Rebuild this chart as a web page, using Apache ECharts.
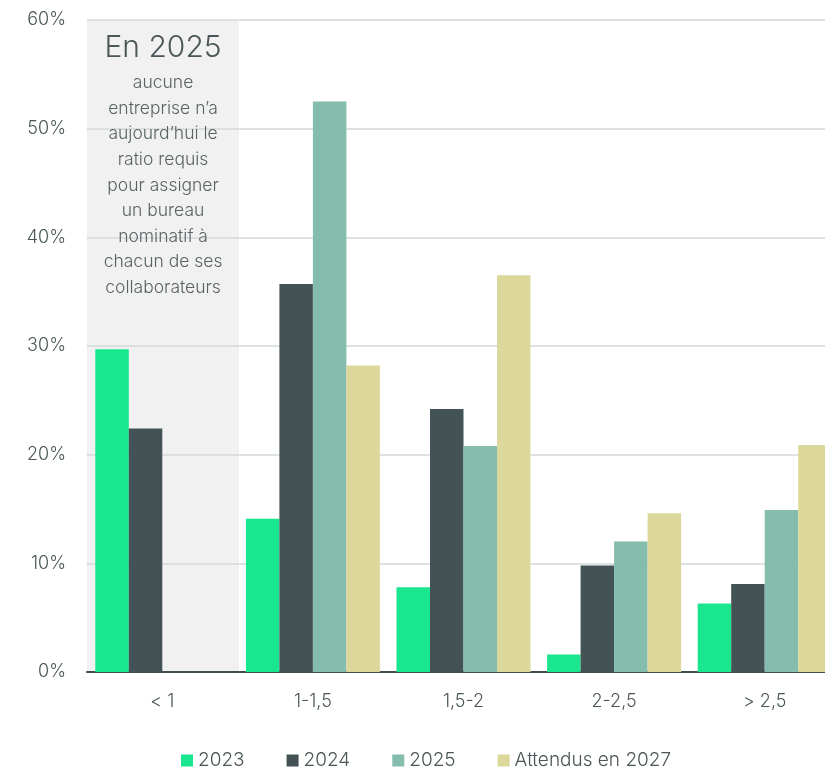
<!DOCTYPE html>
<html>
<head>
<meta charset="utf-8">
<script src="https://cdn.jsdelivr.net/npm/echarts@6/dist/echarts.min.js"></script>
<style>
  html, body { margin: 0; padding: 0; background: #ffffff; }
  #chart { width: 825px; height: 771px; }
</style>
</head>
<body>
<div id="chart"></div>
<script>
// Ratio categories and share of companies (%) per year
const categories = ['< 1', '1-1,5', '1,5-2', '2-2,5', '> 2,5'];
const seriesNames = ['2023', '2024', '2025', 'Attendus en 2027'];
const values2023 = [29.7, 14.1, 7.8, 1.6, 6.3];
const values2024 = [22.4, 35.7, 24.2, 9.8, 8.1];
const values2025 = [null, 52.5, 20.8, 12.0, 14.9];
const values2027 = [null, 28.2, 36.5, 14.6, 20.9];
const yTicks = [0, 10, 20, 30, 40, 50, 60];

const noteTitle = 'En 2025';
const noteLines = ['aucune', 'entreprise n’a', 'aujourd’hui le', 'ratio requis',
  'pour assigner', 'un bureau', 'nominatif à', 'chacun de ses', 'collaborateurs'];

const colors = ['#19e68f', '#435254', '#84bcad', '#dcd89b'];
const textColor = '#4a5657';
const font = 'Inter, "Noto Sans", sans-serif';

const chart = echarts.init(document.getElementById('chart'));
const allValues = [values2023, values2024, values2025, values2027];

chart.setOption({
  animation: false,
  textStyle: { fontFamily: font },
  // the plot runs slightly past the right edge of the canvas
  grid: { left: 87, right: -15, top: 20, bottom: 99, containLabel: false, outerBoundsMode: 'none' },
  legend: {
    top: 751,
    left: 181,
    padding: 0,
    itemWidth: 12,
    itemHeight: 12,
    itemGap: 42,
    icon: 'rect',
    textStyle: { fontSize: 19, color: textColor, fontFamily: font, fontWeight: 300 },
    data: seriesNames
  },
  xAxis: {
    type: 'category',
    data: categories,
    axisLine: { lineStyle: { color: '#3f4d4f', width: 2 } },
    axisTick: { show: false },
    axisLabel: { fontSize: 18, color: textColor, margin: 21, fontFamily: font, fontWeight: 300 }
  },
  yAxis: {
    type: 'value',
    min: 0, max: 60, interval: 10,
    axisLine: { show: false },
    axisTick: { show: false },
    splitLine: { lineStyle: { color: '#d3d9d9', width: 1.5 } },
    axisLabel: {
      fontSize: 18, color: textColor, margin: 21, fontFamily: font, fontWeight: 300,
      formatter: v => yTicks.includes(v) ? v + '%' : ''
    }
  },
  series: seriesNames.map((name, i) => ({
    name,
    type: 'bar',
    data: allValues[i],
    barWidth: 33.5,
    barGap: '0%',
    itemStyle: { color: colors[i] },
    z: 3
  }))
});

// Shaded note band over the first category, positioned from the axis scale
function drawNote() {
  const c0 = chart.convertToPixel({ xAxisIndex: 0 }, categories[0]);
  const c1 = chart.convertToPixel({ xAxisIndex: 0 }, categories[1]);
  const band = c1 - c0;
  const yTop = chart.convertToPixel({ yAxisIndex: 0 }, 60);
  const yBot = chart.convertToPixel({ yAxisIndex: 0 }, 0);
  const left = c0 - band / 2;
  const width = band + 1.5;
  const cx = left + width / 2;
  const elements = [{
    type: 'rect', z: -10, silent: true,
    shape: { x: left, y: yTop + 1, width: width, height: yBot - yTop - 1 },
    style: { fill: '#f1f1f1' }
  }, {
    type: 'text', z: 10, silent: true,
    x: cx, y: yTop + 28,
    style: { text: noteTitle, fill: textColor, font: '300 30px ' + font, align: 'center', verticalAlign: 'middle' }
  }];
  noteLines.forEach((line, k) => {
    elements.push({
      type: 'text', z: 10, silent: true,
      x: cx, y: yTop + 63 + k * 25.6,
      style: { text: line, fill: '#596364', font: '300 17.5px ' + font, align: 'center', verticalAlign: 'middle' }
    });
  });
  chart.setOption({ graphic: { elements } });
}
drawNote();
</script>
</body>
</html>
